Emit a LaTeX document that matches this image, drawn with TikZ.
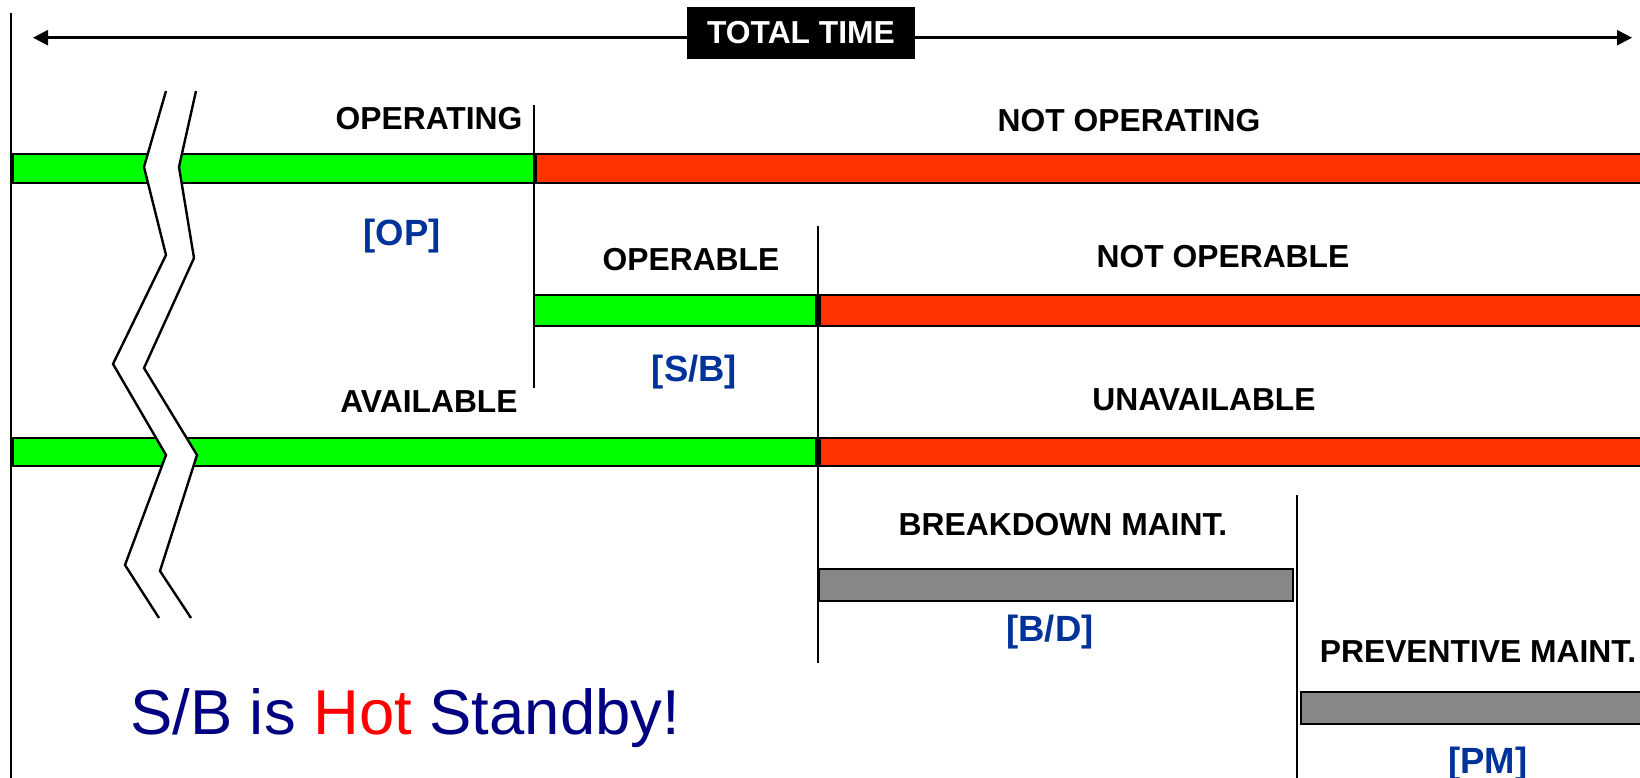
\documentclass[tikz,border=0pt]{standalone}
\usepackage{fontspec}
\setmainfont{Liberation Sans}
\usetikzlibrary{arrows.meta}
\definecolor{opgreen}{HTML}{00FF00}
\definecolor{opred}{HTML}{FF3300}
\definecolor{mgray}{HTML}{878787}
\definecolor{lblue}{HTML}{003399}
\definecolor{navyb}{HTML}{000080}
\tikzset{
  lbl/.style={font=\fontsize{31.8}{31.8}\selectfont\bfseries, anchor=base, inner sep=0pt},
  code/.style={font=\fontsize{36.5}{36.5}\selectfont\bfseries, text=lblue, anchor=base, inner sep=0pt},
  barbox/.style={draw=black, line width=2.8pt},
  divider/.style={line width=2.4pt},
}
\begin{document}
\begin{tikzpicture}[x=1pt,y=-1pt]
\useasboundingbox (0,0) rectangle (1640,778);
\clip (0,0) rectangle (1640,778);
\fill[white] (0,0) rectangle (1640,778);

% top arrow
\coordinate (tl) at (33,37.7);
\coordinate (tr) at (1632,37.7);
\draw[line width=2.4pt, {Triangle[length=15pt,width=15pt]}-{Triangle[length=15pt,width=15pt]}] (tl) -- (tr);
\node[fill=black, text=white, font=\fontsize{31.8}{31.8}\selectfont\bfseries, minimum width=228pt, minimum height=52pt, inner sep=0pt] (total) at (801,33) {TOTAL TIME};

% row 1
\draw[barbox, fill=opgreen] (13,154) rectangle (534,183);
\draw[barbox, fill=opred] (536,154) rectangle (1650,183);
% row 2
\draw[barbox, fill=opgreen] (534,295) rectangle (816,326);
\draw[barbox, fill=opred] (820,295) rectangle (1650,326);
% row 3
\draw[barbox, fill=opgreen] (13,438) rectangle (816,466);
\draw[barbox, fill=opred] (820,438) rectangle (1650,466);
% maintenance
\draw[barbox, fill=mgray] (819,569) rectangle (1293,601);
\draw[barbox, fill=mgray] (1301,692) rectangle (1650,724);

% vertical lines
\draw[divider] (11,13) -- (11,790);
\draw[divider] (534,105) -- (534,388);
\draw[divider] (818,226) -- (818,663);
\draw[divider] (1297,495) -- (1297,790);

% break mark
\fill[white] (166,91) -- (144,167) -- (166,255) -- (113,364) -- (166,455) -- (125,565) -- (159,618)
  -- (191,618) -- (160,571) -- (197,455) -- (144,368) -- (194,258) -- (179,167) -- (196,91) -- cycle;
\draw[line width=2.4pt] (166,91) -- (144,167) -- (166,255) -- (113,364) -- (166,455) -- (125,565) -- (159,618);
\draw[line width=2.4pt] (196,91) -- (179,167) -- (194,258) -- (144,368) -- (197,455) -- (160,571) -- (191,618);

% labels
\node[lbl] (op) at (429,130) {OPERATING};
\node[lbl] (nop) at (1129,132) {NOT OPERATING};
\node[lbl] (opb) at (691,270) {OPERABLE};
\node[lbl] (nopb) at (1223,267) {NOT OPERABLE};
\node[lbl] (av) at (429,412) {AVAILABLE};
\node[lbl] (unav) at (1204,410) {UNAVAILABLE};
\node[lbl] (bd) at (1063,535) {BREAKDOWN MAINT.};
\node[lbl] (pm) at (1478,662) {PREVENTIVE MAINT.};

\node[code] (cop) at (402,245) {[OP]};
\node[code] (csb) at (694.5,381) {[S/B]};
\node[code] (cbd) at (1050,641) {[B/D]};
\node[code] (cpm) at (1488,773) {[PM]};

\node[anchor=base west, inner sep=0pt, font=\fontsize{63.4}{63.4}\selectfont, text=navyb] (hot) at (130,734) {S/B is \textcolor{red}{Hot} Standby!};
\end{tikzpicture}
\end{document}
